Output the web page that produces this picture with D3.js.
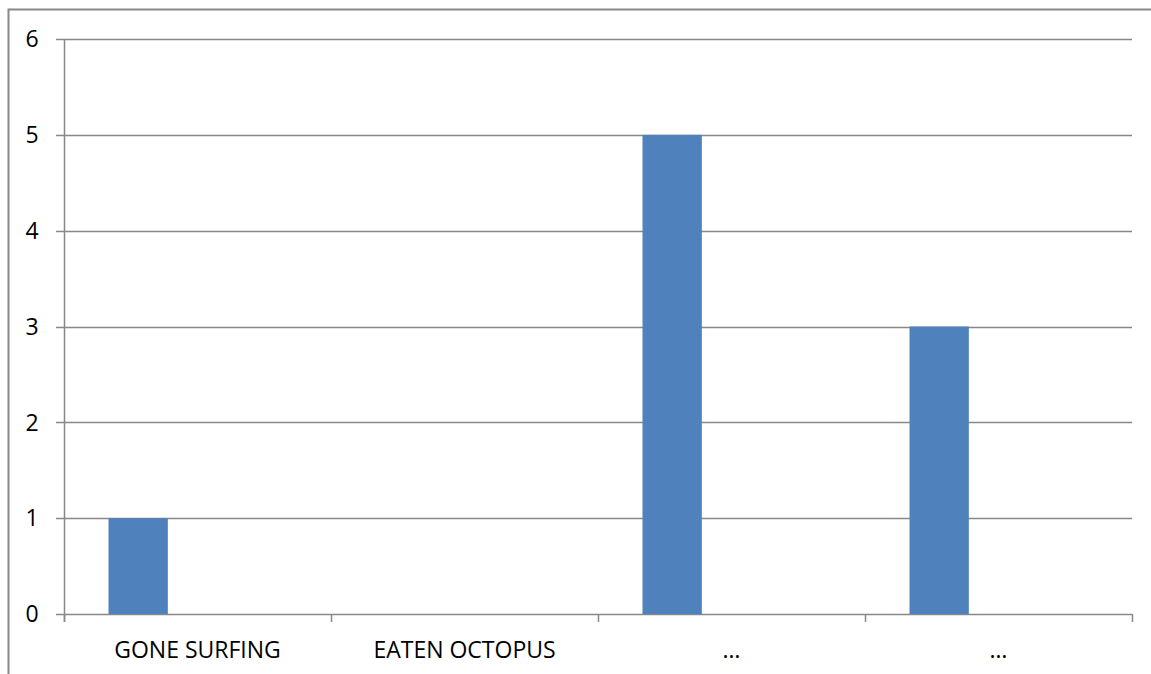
<!DOCTYPE html>
<html>
<head>
<meta charset="utf-8">
<script src="https://cdn.jsdelivr.net/npm/d3@7"></script>
<style>
  body { margin: 0; background: #fff; }
  svg { display: block; font-family: "Open Sans", "Noto Sans", sans-serif; }
</style>
</head>
<body>
<svg id="chart" width="1151" height="674"></svg>
<script>
// DATA
const categories = ["GONE SURFING", "EATEN OCTOPUS", "…", "…"];
const series1 = [1, 0, 5, 3];
const series2 = [0, 0, 0, 0];
const series3 = [0, 0, 0, 0];
const yTicks = [0, 1, 2, 3, 4, 5, 6];

const svg = d3.select("#chart");
const margin = {left: 64, right: 19, top: 39, bottom: 60};
const width = 1151 - margin.left - margin.right;
const height = 674 - margin.top - margin.bottom;

// outer frame (only top and left are inside the picture)
svg.append("path")
    .attr("d", "M8.5,674 L8.5,9.5 L1151,9.5")
    .attr("fill", "none")
    .attr("stroke", "#888")
    .attr("stroke-width", 2);

const g = svg.append("g").attr("transform", `translate(${margin.left},${margin.top})`);

const x0 = d3.scaleBand().domain(categories.map((d, i) => i)).range([0, width]);
// 3 series per category, gap width 150%
const x1 = d3.scaleBand().domain([0, 1, 2]).range([0, x0.bandwidth()])
    .paddingInner(0).paddingOuter(0.75);
const y = d3.scaleLinear().domain([0, 6]).range([height, 0]);

// gridlines
g.selectAll(".grid").data(yTicks).enter().append("line")
    .attr("x1", -8).attr("x2", width)
    .attr("y1", d => Math.round(y(d)) + 0.5).attr("y2", d => Math.round(y(d)) + 0.5)
    .attr("stroke", "#888").attr("stroke-width", 1.5);

// y labels
g.selectAll(".ylab").data(yTicks).enter().append("text")
    .attr("x", -32).attr("y", d => y(d))
    .attr("dy", "0.36em")
    .attr("text-anchor", "middle")
    .attr("font-size", 23)
    .attr("fill", "#000")
    .text(d => d);

// bars
const allSeries = [series1, series2, series3];
allSeries.forEach(function(s, si) {
    g.selectAll(".bar" + si).data(s).enter().append("rect")
        .attr("x", (d, i) => x0(i) + x1(si))
        .attr("y", d => y(d))
        .attr("width", x1.bandwidth())
        .attr("height", d => height - y(d))
        .attr("fill", "#4F81BD");
});

// y axis line
g.append("line")
    .attr("x1", 0.5).attr("x2", 0.5).attr("y1", 0).attr("y2", height + 8)
    .attr("stroke", "#888").attr("stroke-width", 1.5);

// category tick marks
const tickPos = categories.map((d, i) => x0(i)).concat([width]);
g.selectAll(".xtick").data(tickPos).enter().append("line")
    .attr("x1", d => Math.round(d) + 0.5).attr("x2", d => Math.round(d) + 0.5)
    .attr("y1", height).attr("y2", height + 8)
    .attr("stroke", "#888").attr("stroke-width", 1.5);

// category labels
g.selectAll(".xlab").data(categories).enter().append("text")
    .attr("x", (d, i) => x0(i) + x0.bandwidth() / 2)
    .attr("y", height + 36)
    .attr("dy", "0.36em")
    .attr("text-anchor", "middle")
    .attr("font-size", 23)
    .attr("fill", "#000")
    .text(d => d);
</script>
</body>
</html>
